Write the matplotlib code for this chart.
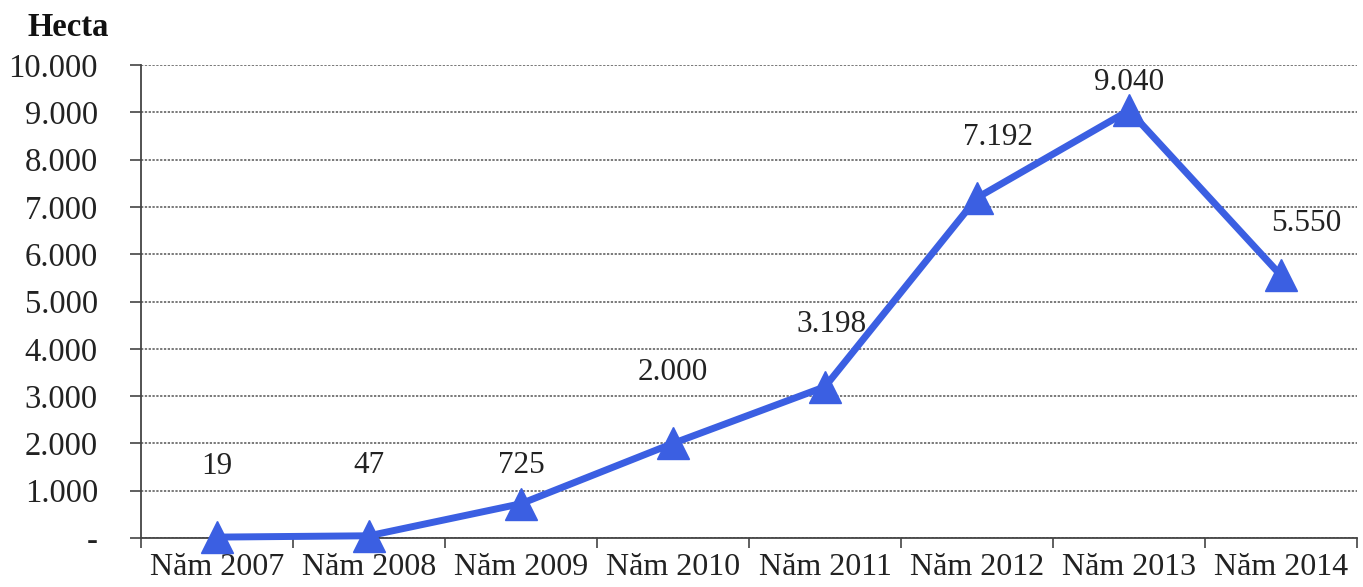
import matplotlib
matplotlib.use("Agg")
import matplotlib.pyplot as plt
from matplotlib.ticker import FixedLocator, FuncFormatter

categories = ["Năm 2007", "Năm 2008", "Năm 2009", "Năm 2010",
              "Năm 2011", "Năm 2012", "Năm 2013", "Năm 2014"]
values = [19, 47, 725, 2000, 3198, 7192, 9040, 5550]
value_labels = ["19", "47", "725", "2.000", "3.198", "7.192", "9.040", "5.550"]
y_ticks = [0, 1000, 2000, 3000, 4000, 5000, 6000, 7000, 8000, 9000, 10000]
unit_label = "Hecta"

# label offsets in pixels (dx, dy) relative to marker
label_offsets = [(0, 71), (0, 70), (0, 38), (0, 71), (7, 62), (21, 60), (0, 28), (25, 52)]

plt.rcParams['font.family'] = ['Liberation Serif', 'DejaVu Serif']

fig = plt.figure(figsize=(13.63, 5.87), dpi=100)
W, H = 1363, 587
ax = fig.add_axes([141 / W, (H - 538) / H, (1357 - 141) / W, (538 - 65) / H])

x = list(range(len(categories)))
ax.plot(x, values, color="#3b5fe2", linewidth=5, marker="^", markersize=23,
        markerfacecolor="#3b5fe2", markeredgecolor="#3b5fe2", zorder=3, clip_on=False)

for xi, v, lab, (dx, dy) in zip(x, values, value_labels, label_offsets):
    ax.annotate(lab, (xi, v), xytext=(dx * 0.72, dy * 0.72), textcoords="offset points",
                ha="center", va="center", fontsize=22.5, color="#222222")

ax.set_xlim(-0.5, len(categories) - 0.5)
ax.set_ylim(0, 10000)
ax.yaxis.set_major_locator(FixedLocator(y_ticks))
ax.yaxis.set_major_formatter(FuncFormatter(
    lambda v, p: "-" if v == 0 else f"{int(v):,}".replace(",", ".")))
ax.set_xticks(x)
ax.set_xticklabels(categories)
ax.set_xticks([i - 0.5 for i in range(len(categories) + 1)], minor=True)
ax.tick_params(axis="x", which="major", length=0, pad=11, labelsize=23, colors="#222222")
ax.tick_params(axis="x", which="minor", length=7, width=1.2, direction="out", color="#444444")
ax.tick_params(axis="y", length=8, width=1.2, direction="out", pad=23, labelsize=23.5,
               colors="#222222", color="#444444")
ax.grid(axis="y", linestyle=(0, (1.5, 1)), color="#555555", linewidth=1.1)
ax.set_axisbelow(True)
for s in ["top", "right"]:
    ax.spines[s].set_visible(False)
for s in ["left", "bottom"]:
    ax.spines[s].set_color("#444444")
    ax.spines[s].set_linewidth(1.3)

fig.text(28 / W, 1 - 27 / H, unit_label, fontsize=23.5, fontweight="bold",
         ha="left", va="center", color="#111111")

fig.savefig("out.png", dpi=100)
